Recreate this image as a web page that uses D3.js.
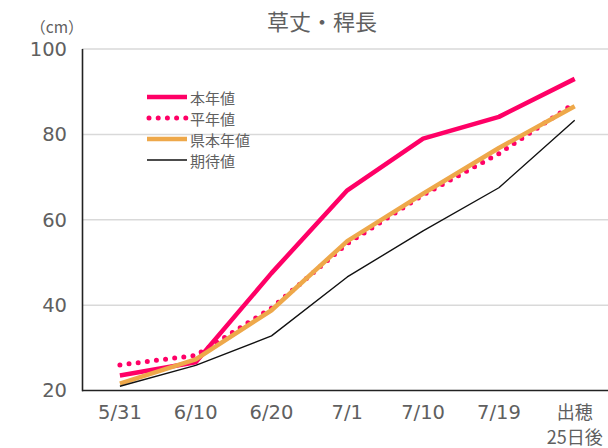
<!DOCTYPE html>
<html>
<head>
<meta charset="utf-8">
<script src="https://cdn.jsdelivr.net/npm/d3@7"></script>
<style>
  html, body { margin: 0; padding: 0; background: #fff; }
  svg { display: block; }
  .num { font-family: "DejaVu Sans", "Noto Sans CJK JP", sans-serif; }
  .jp { font-family: "Noto Sans CJK JP", "DejaVu Sans", sans-serif; }
</style>
</head>
<body>
<svg id="chart" width="608" height="448"></svg>
<script>
// Survey dates (last one is a two-line label)
const categories = ["5/31", "6/10", "6/20", "7/1", "7/10", "7/19", "出穂\n25日後"];

// Plant height (cm) for each series
const honnen    = [23.5, 26.6, 47.5, 66.9, 79.0, 84.1, 93.0]; // 本年値
const heinen    = [26.0, 28.2, 39.3, 54.4, 65.8, 75.5, 87.3]; // 平年値
const kenHonnen = [21.6, 27.3, 38.8, 55.0, 66.1, 76.8, 86.6]; // 県本年値
const kitai     = [21.0, 25.9, 32.8, 46.6, 57.4, 67.5, 83.3]; // 期待値

const yTicks = [20, 40, 60, 80, 100];

const series = [
  { name: "本年値",   values: honnen,    color: "#ff0066", width: 4.5, dash: null },
  { name: "平年値",   values: heinen,    color: "#ff0066", width: 5,   dash: "0,9.2" },
  { name: "県本年値", values: kenHonnen, color: "#eea84a", width: 4.5, dash: null },
  { name: "期待値",   values: kitai,     color: "#111111", width: 1.4, dash: null }
];

const svg = d3.select("#chart");
const plotLeft = 82, plotTop = 49, plotBottom = 390.5;
const band = 75.8;

const x = d3.scaleBand()
  .domain(categories)
  .range([plotLeft, plotLeft + band * categories.length])
  .paddingInner(0).paddingOuter(0);

const y = d3.scaleLinear().domain([20, 100]).range([plotBottom, plotTop]);

const textColor = "#606060";

// horizontal gridlines
svg.append("g")
  .selectAll("line")
  .data(yTicks.filter(d => d > 20))
  .join("line")
  .attr("x1", plotLeft).attr("x2", 608)
  .attr("y1", d => y(d)).attr("y2", d => y(d))
  .attr("stroke", "#d9d9d9").attr("stroke-width", 1.5);

// y axis labels
const yAxis = d3.axisLeft(y).tickValues(yTicks).tickSize(0).tickPadding(15);
const gy = svg.append("g").attr("transform", `translate(${plotLeft},0)`).call(yAxis);
gy.select(".domain").remove();
gy.selectAll("text")
  .attr("class", "num")
  .attr("font-size", 19.5)
  .attr("fill", textColor);

// x axis labels
const xAxis = d3.axisBottom(x).tickSize(0).tickPadding(0).tickFormat("");
const gx = svg.append("g").attr("transform", `translate(0,${plotBottom})`).call(xAxis);
gx.select(".domain").remove();
gx.selectAll(".tick").each(function(d) {
  const lines = d.split("\n");
  const t = d3.select(this).append("text")
    .attr("font-size", lines.length > 1 ? 18 : 19.5)
    .attr("fill", textColor)
    .attr("text-anchor", "middle");
  lines.forEach((ln, i) => {
    t.append("tspan")
      .attr("x", 0)
      .attr("y", 28 + i * 25)
      .attr("class", /^[0-9\/]+$/.test(ln) ? "num" : "jp")
      .text(ln);
  });
});

// axis lines
svg.append("line")
  .attr("x1", plotLeft + 0.5).attr("x2", plotLeft + 0.5)
  .attr("y1", plotTop).attr("y2", plotBottom + 0.75)
  .attr("stroke", "#222").attr("stroke-width", 1.6);
svg.append("line")
  .attr("x1", plotLeft).attr("x2", 608)
  .attr("y1", plotBottom).attr("y2", plotBottom)
  .attr("stroke", "#222").attr("stroke-width", 1.6);

// data lines
const line = d3.line()
  .x((d, i) => x(categories[i]) + x.bandwidth() / 2)
  .y(d => y(d));

svg.append("g")
  .selectAll("path")
  .data(series)
  .join("path")
  .attr("d", s => line(s.values))
  .attr("fill", "none")
  .attr("stroke", s => s.color)
  .attr("stroke-width", s => s.width)
  .attr("stroke-linecap", s => s.dash ? "round" : "butt")
  .attr("stroke-linejoin", "round")
  .attr("stroke-dasharray", s => s.dash);

// legend
const legend = svg.append("g");
series.forEach((s, i) => {
  const ly = 97 + i * 21;
  legend.append("line")
    .attr("x1", s.dash ? 149 : 147).attr("x2", 187)
    .attr("y1", ly).attr("y2", ly)
    .attr("stroke", s.color)
    .attr("stroke-width", s.width)
    .attr("stroke-linecap", s.dash ? "round" : "butt")
    .attr("stroke-dasharray", s.dash);
  legend.append("text")
    .attr("class", "jp")
    .attr("x", 190).attr("y", ly)
    .attr("dominant-baseline", "central")
    .attr("font-size", 15)
    .attr("fill", textColor)
    .text(s.name);
});

// title and unit
svg.append("text")
  .attr("class", "jp")
  .attr("x", 322).attr("y", 30)
  .attr("text-anchor", "middle")
  .attr("font-size", 22)
  .attr("fill", textColor)
  .text("草丈・稈長");

svg.append("text")
  .attr("class", "jp")
  .attr("x", 57).attr("y", 33)
  .attr("text-anchor", "middle")
  .attr("font-size", 15.5)
  .attr("fill", textColor)
  .text("（cm）");
</script>
</body>
</html>
